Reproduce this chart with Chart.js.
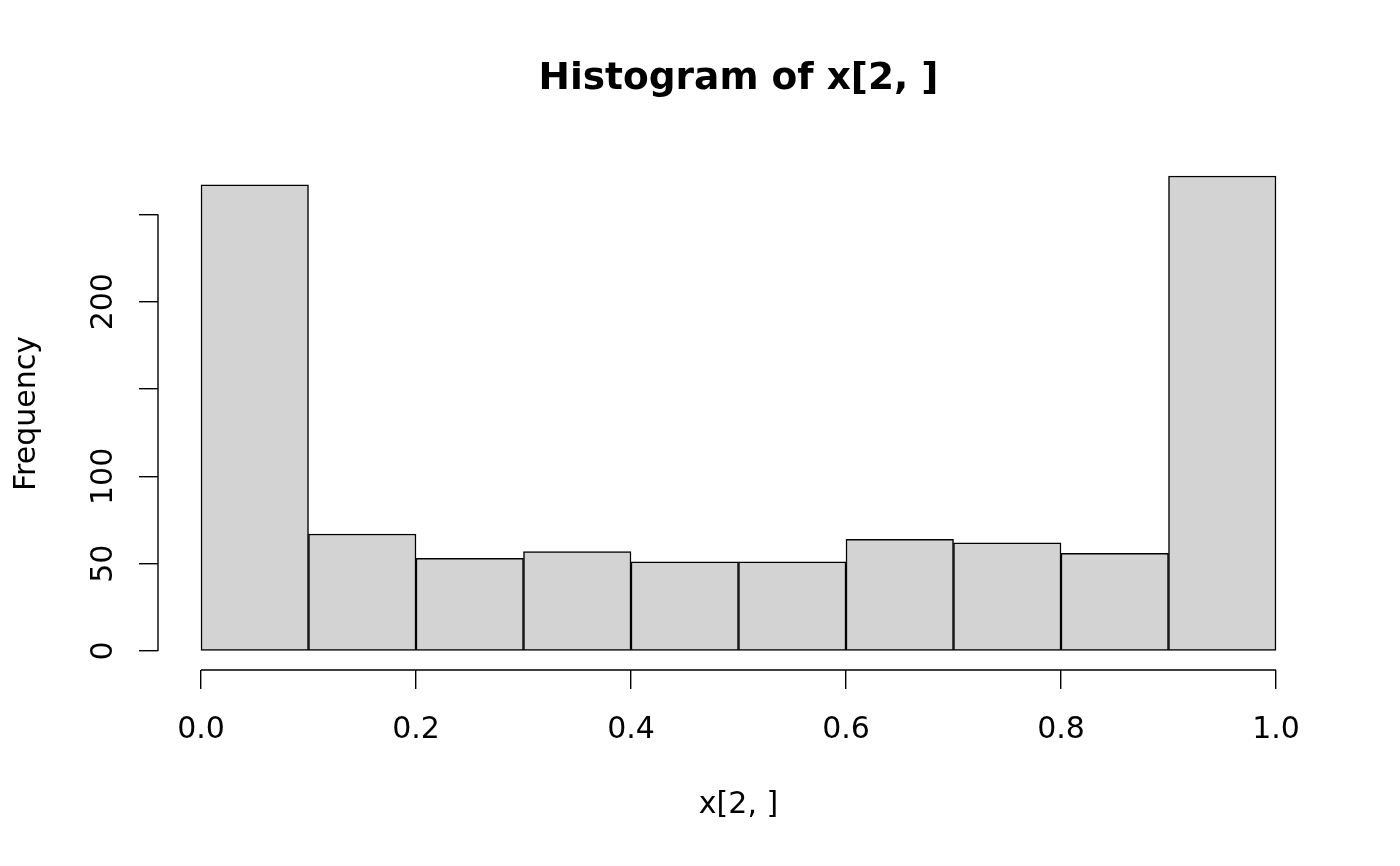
<!DOCTYPE html>
<html>
<head>
<meta charset="utf-8">
<title>Histogram of x[2, ]</title>
<script src="https://cdn.jsdelivr.net/npm/chart.js@4"></script>
<style>
  html, body { margin: 0; padding: 0; background: #fff; }
  #wrap { width: 1400px; height: 866px; position: relative; }
</style>
</head>
<body>
<div id="wrap"><canvas id="hist"></canvas></div>
<script>
// histogram bins (mids) and counts
const binMids = [0.05, 0.15, 0.25, 0.35, 0.45, 0.55, 0.65, 0.75, 0.85, 0.95];
const counts  = [267, 67, 53, 57, 51, 51, 64, 62, 56, 272];

const xTicks = [0, 0.2, 0.4, 0.6, 0.8, 1.0];
const xTickLabels = ['0.0', '0.2', '0.4', '0.6', '0.8', '1.0'];
const yTicks = [0, 50, 100, 150, 200, 250];
const yTickLabels = ['0', '50', '100', '', '200', '']; // R drops the ones that would overlap

const FONT = 'DejaVu Sans';

// R style axes: line only from first to last tick, y labels rotated
const rAxes = {
  id: 'rAxes',
  afterDraw(chart) {
    const { ctx, chartArea, scales: { x, y } } = chart;
    ctx.save();
    ctx.strokeStyle = '#000';
    ctx.lineWidth = 1.4;
    ctx.beginPath();
    ctx.moveTo(chartArea.left, y.getPixelForValue(yTicks[0]));
    ctx.lineTo(chartArea.left, y.getPixelForValue(yTicks[yTicks.length - 1]));
    ctx.moveTo(x.getPixelForValue(xTicks[0]), chartArea.bottom);
    ctx.lineTo(x.getPixelForValue(xTicks[xTicks.length - 1]), chartArea.bottom);
    ctx.stroke();

    ctx.fillStyle = '#000';
    ctx.font = '30px "' + FONT + '"';
    ctx.textAlign = 'center';
    ctx.textBaseline = 'alphabetic';
    yTicks.forEach((v, i) => {
      if (!yTickLabels[i]) return;
      ctx.save();
      ctx.translate(112, y.getPixelForValue(v));
      ctx.rotate(-Math.PI / 2);
      ctx.fillText(yTickLabels[i], 0, 0);
      ctx.restore();
    });
    ctx.restore();
  }
};

new Chart(document.getElementById('hist'), {
  type: 'bar',
  data: {
    datasets: [{
      label: 'Frequency',
      data: binMids.map((m, i) => ({ x: m, y: counts[i] })),
      backgroundColor: '#d3d3d3',
      borderColor: '#000',
      borderWidth: 1.5,
      borderSkipped: false,
      barPercentage: 1,
      categoryPercentage: 1
    }]
  },
  options: {
    responsive: true,
    maintainAspectRatio: false,
    animation: false,
    devicePixelRatio: 1,
    layout: { padding: { left: 0, right: 81, top: 0, bottom: 0 } },
    plugins: {
      legend: { display: false },
      tooltip: { enabled: false },
      title: {
        display: true,
        fullSize: false,
        text: 'Histogram of x[2, ]',
        color: '#000',
        font: { family: FONT, size: 37.5, weight: 'bold' },
        padding: { top: 57, bottom: 55 }
      }
    },
    scales: {
      x: {
        type: 'linear',
        min: -0.04,
        max: 1.04,
        offset: false,
        afterBuildTicks: s => { s.ticks = xTicks.map(v => ({ value: v })); },
        afterFit: s => { s.height = 196; },
        border: { display: false },
        grid: { offset: false, drawOnChartArea: false, drawTicks: true, tickLength: 19, color: '#000', lineWidth: 1.4 },
        ticks: {
          color: '#000',
          font: { family: FONT, size: 30 },
          padding: 23,
          maxRotation: 0,
          autoSkip: false,
          callback: (v, i) => xTickLabels[i]
        },
        title: {
          display: true,
          text: 'x[2, ]',
          color: '#000',
          font: { family: FONT, size: 30 },
          padding: { top: 0, bottom: 43 }
        }
      },
      y: {
        min: -10.88,
        max: 282.88,
        afterBuildTicks: s => { s.ticks = yTicks.map(v => ({ value: v })); },
        afterFit: s => { s.width = 158; },
        border: { display: false },
        grid: { drawOnChartArea: false, drawTicks: true, tickLength: 19, color: '#000', lineWidth: 1.4 },
        ticks: { display: false },
        title: {
          display: true,
          text: 'Frequency',
          color: '#000',
          font: { family: FONT, size: 30 },
          padding: { top: 9, bottom: 0 }
        }
      }
    }
  },
  plugins: [rAxes]
});
</script>
</body>
</html>
